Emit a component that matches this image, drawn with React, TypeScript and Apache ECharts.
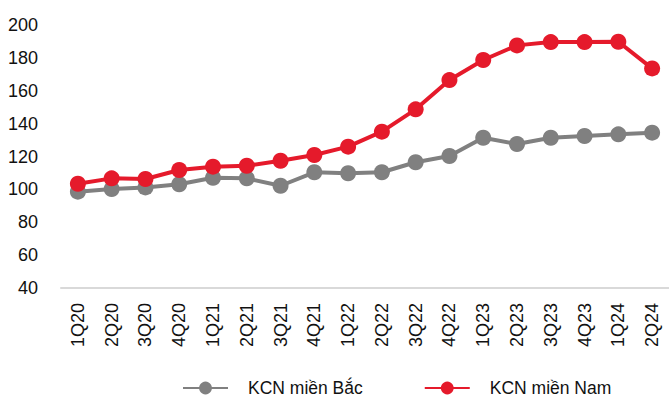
import React, { useEffect, useRef } from "react";
import * as echarts from "echarts";

const quarters = [
  "1Q20", "2Q20", "3Q20", "4Q20",
  "1Q21", "2Q21", "3Q21", "4Q21",
  "1Q22", "2Q22", "3Q22", "4Q22",
  "1Q23", "2Q23", "3Q23", "4Q23",
  "1Q24", "2Q24",
];

const northIndex = [
  98.6, 100.2, 101.2, 103.1,
  107.1, 106.7, 102.2, 110.4,
  109.8, 110.4, 116.5, 120.3,
  131.4, 127.6, 131.4, 132.5,
  133.5, 134.5,
];

const southIndex = [
  103.4, 106.7, 106.3, 111.8,
  113.8, 114.4, 117.4, 120.9,
  126.0, 135.1, 148.7, 166.5,
  178.7, 187.6, 189.6, 189.6,
  189.8, 173.6,
];

const northName = "KCN miền Bắc";
const southName = "KCN miền Nam";

const FONT = "'Liberation Sans', Arial, sans-serif";
const GRAY = "#808080";
const RED = "#E51A2B";
const TEXT = "#111";

export default function App() {
  const ref = useRef<HTMLDivElement>(null);

  useEffect(() => {
    document.body.style.margin = "0";
    if (!ref.current) return;
    const chart = echarts.init(ref.current, undefined, { renderer: "svg" });
    chart.setOption({
      animation: false,
      textStyle: { fontFamily: FONT },
      grid: { left: 61, right: -6, top: 25, bottom: 113, containLabel: false },
      legend: {
        left: 182,
        top: 379,
        padding: 0,
        itemWidth: 45,
        itemHeight: 16,
        itemGap: 61,
        textStyle: {
          fontFamily: FONT,
          fontSize: 17.5,
          lineHeight: 18,
          color: TEXT,
          padding: [0, 0, 0, 15],
        },
        data: [northName, southName],
      },
      xAxis: {
        type: "category",
        data: quarters,
        boundaryGap: true,
        axisLine: { show: true, lineStyle: { color: "#D9D9D9", width: 2 } },
        axisTick: { show: false },
        axisLabel: {
          rotate: 90,
          margin: 15,
          interval: 0,
          fontFamily: FONT,
          fontSize: 18,
          color: TEXT,
        },
      },
      yAxis: {
        type: "value",
        min: 40,
        max: 200,
        interval: 20,
        axisLine: { show: false },
        axisTick: { show: false },
        splitLine: { show: false },
        axisLabel: {
          margin: 23,
          fontFamily: FONT,
          fontSize: 18,
          color: TEXT,
        },
      },
      series: [
        {
          name: northName,
          type: "line",
          data: northIndex,
          symbol: "circle",
          symbolSize: 16,
          color: GRAY,
          lineStyle: { color: GRAY, width: 4 },
          itemStyle: { color: GRAY },
        },
        {
          name: southName,
          type: "line",
          data: southIndex,
          symbol: "circle",
          symbolSize: 16,
          color: RED,
          lineStyle: { color: RED, width: 4 },
          itemStyle: { color: RED },
        },
      ],
    });
    return () => chart.dispose();
  }, []);

  return <div ref={ref} style={{ width: 669, height: 401 }} />;
}
